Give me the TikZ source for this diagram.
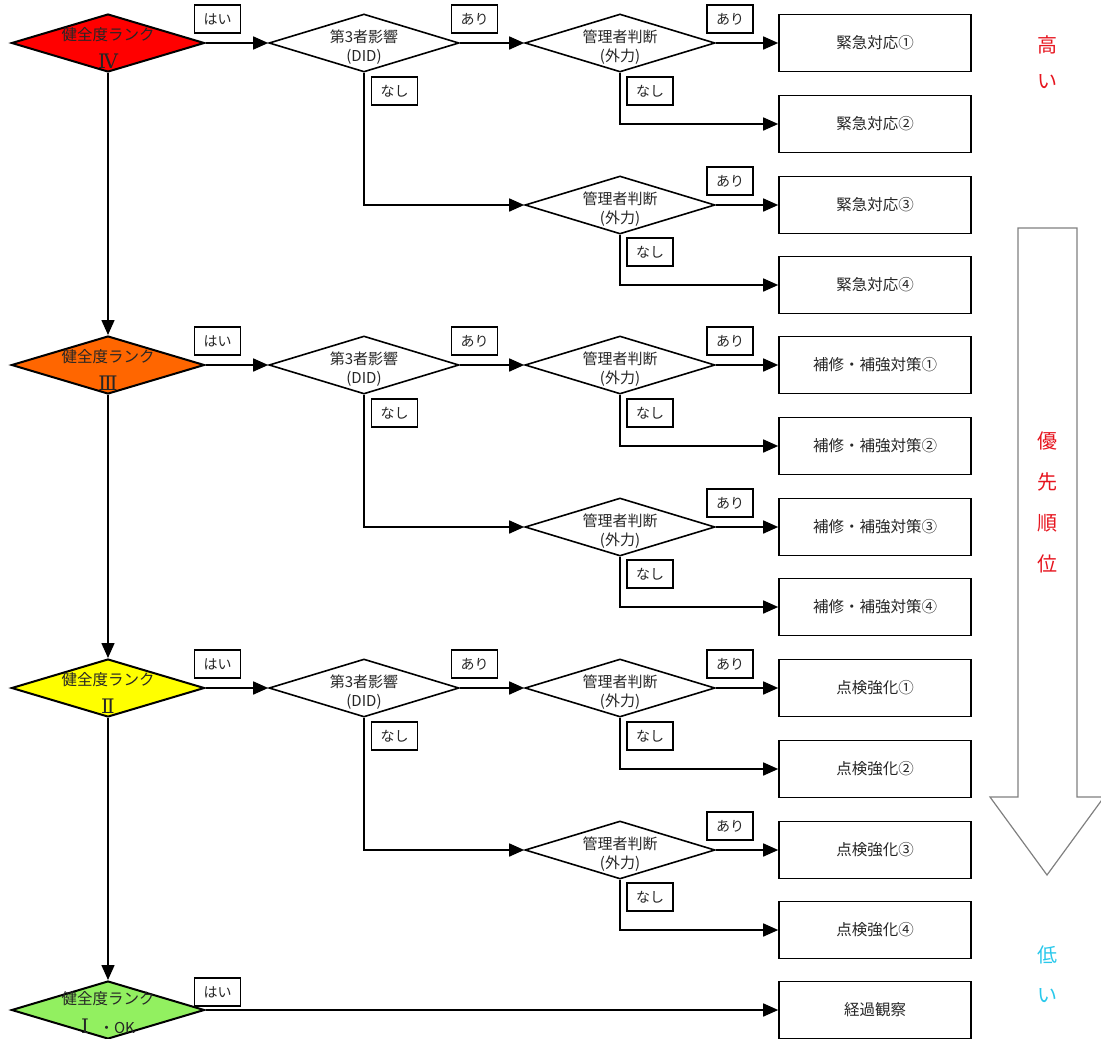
\documentclass[tikz,border=0pt]{standalone}
\usepackage{fontspec}
\setmainfont{Noto Sans CJK JP}
\newfontfamily\romanfont{DejaVu Serif}
\usetikzlibrary{shapes.geometric,arrows.meta}
\definecolor{rkred}{RGB}{255,0,0}
\definecolor{rkorange}{RGB}{255,102,0}
\definecolor{rkyellow}{RGB}{255,255,0}
\definecolor{rkgreen}{RGB}{146,240,96}
\definecolor{hired}{RGB}{230,20,30}
\definecolor{locyan}{RGB}{40,200,235}
\definecolor{bigarrow}{RGB}{128,128,128}
\begin{document}
\begin{tikzpicture}[x=1pt,y=-1pt,line width=1.6pt,
  rank/.style={diamond,draw,line width=2pt,minimum width=193pt,minimum height=58pt,inner sep=0pt},
  dec/.style={diamond,draw,line width=1.6pt,minimum width=190pt,minimum height=58pt,inner sep=0pt,fill=white},
  res/.style={rectangle,draw,line width=1.6pt,minimum width=192pt,minimum height=57pt,inner sep=0pt,text=black!85,font=\fontsize{15.5}{17}\selectfont},
  lab/.style={rectangle,draw,line width=1.2pt,minimum width=46pt,minimum height=28pt,inner sep=0pt,text=black!85,font=\fontsize{14}{15}\selectfont,fill=white},
  txt/.style={inner sep=0pt,text=black!85,font=\fontsize{15}{16}\selectfont},
  ranktxt/.style={inner sep=0pt,text=black!85,font=\fontsize{15.5}{17}\selectfont},
  numtxt/.style={inner sep=0pt,text=black!85,font=\fontsize{20}{22}\selectfont\romanfont},
  side/.style={inner sep=0pt,font=\fontsize{20}{22}\selectfont},
  arr/.style={-{Triangle[length=15pt,width=13pt]}}]
\useasboundingbox (0,0) rectangle (1101,1039);

% big priority arrow
\draw[bigarrow,line width=1.2pt,line join=miter]
  (1018,228) -- (1077,228) -- (1077,797) -- (1104,797) -- (1047,875) -- (990,797) -- (1018,797) -- cycle;
\node[side,text=hired] (hi1) at (1047,45) {高};
\node[side,text=hired] (hi2) at (1047,82) {い};
\node[side,text=hired] (p1) at (1047,441) {優};
\node[side,text=hired] (p2) at (1047,482) {先};
\node[side,text=hired] (p3) at (1047,523) {順};
\node[side,text=hired] (p4) at (1047,564) {位};
\node[side,text=locyan] (lo1) at (1047,955) {低};
\node[side,text=locyan] (lo2) at (1047,996) {い};

\foreach \g/\col/\num/\act [count=\i] in {0/rkred/Ⅳ/緊急対応, 322/rkorange/Ⅲ/補修・補強対策, 645/rkyellow/Ⅱ/点検強化}{
  \node[rank,fill=\col] (r\i) at (108,{43+\g}) {};
  \node[ranktxt] (rt\i) at (108,{35+\g}) {健全度ランク};
  \node[numtxt] (rn\i) at (108,{61+\g}) {\num};
  \node[dec] (d\i) at (364,{43+\g}) {};
  \node[txt] (dt\i) at (364,{37+\g}) {第3者影響};
  \node[txt] (dn\i) at (364,{57+\g}) {(DID)};
  \node[dec] (ma\i) at (620,{43+\g}) {};
  \node[txt] (mat\i) at (620,{37+\g}) {管理者判断};
  \node[txt] (man\i) at (620,{57+\g}) {(外力)};
  \node[dec] (mb\i) at (620,{205+\g}) {};
  \node[txt] (mbt\i) at (620,{199+\g}) {管理者判断};
  \node[txt] (mbn\i) at (620,{219+\g}) {(外力)};
  \node[res] (b\i a) at (875,{43+\g}) {\act ①};
  \node[res] (b\i b) at (875,{124+\g}) {\act ②};
  \node[res] (b\i c) at (875,{205+\g}) {\act ③};
  \node[res] (b\i d) at (875,{285+\g}) {\act ④};
  \draw[arr] (r\i.east) -- (d\i.west);
  \draw[arr] (d\i.east) -- (ma\i.west);
  \draw[arr] (ma\i.east) -- (b\i a.west);
  \draw[arr] (ma\i.south) |- (b\i b.west);
  \draw[arr] (d\i.south) |- (mb\i.west);
  \draw[arr] (mb\i.east) -- (b\i c.west);
  \draw[arr] (mb\i.south) |- (b\i d.west);
  \node[lab] (lh\i) at (217.5,{19+\g}) {はい};
  \node[lab] (la\i) at (474.5,{19+\g}) {あり};
  \node[lab] (lb\i) at (730,{19+\g}) {あり};
  \node[lab] (lc\i) at (730,{181+\g}) {あり};
  \node[lab] (ld\i) at (394.5,{91+\g}) {なし};
  \node[lab] (le\i) at (650,{91+\g}) {なし};
  \node[lab] (lf\i) at (650,{252+\g}) {なし};
}

% lowest rank
\node[rank,fill=rkgreen] (r4) at (108,1010) {};
\node[ranktxt] (rt4) at (108,999) {健全度ランク};
\node[numtxt] (rn4) at (108,1026) {Ⅰ\hspace{0.5em}{\rmfamily\fontsize{15}{16}\selectfont ・OK}};
\node[res] (b5) at (875,1010) {経過観察};
\node[lab] (lh4) at (217.5,992) {はい};
\draw[arr] (r4.east) -- (b5.west);

\draw[arr] (r1.south) -- (r2.north);
\draw[arr] (r2.south) -- (r3.north);
\draw[arr] (r3.south) -- (r4.north);
\end{tikzpicture}
\end{document}
